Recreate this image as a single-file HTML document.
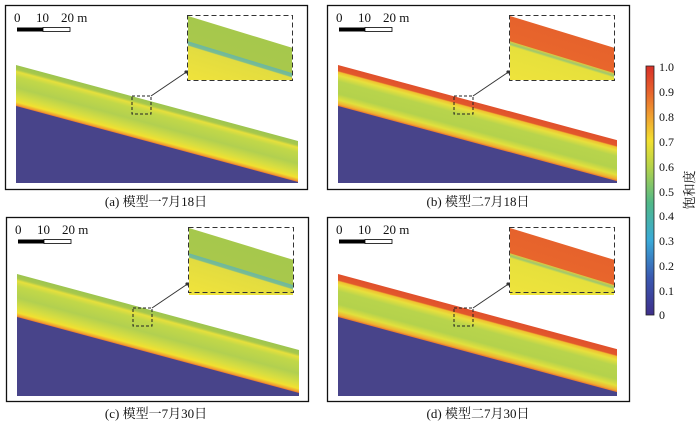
<!DOCTYPE html>
<html><head><meta charset="utf-8"><style>
html,body{margin:0;padding:0;background:#fff;width:700px;height:425px;overflow:hidden}
svg{display:block}
text{font-family:"Liberation Serif","Noto Serif CJK SC",serif;fill:#111}
</style></head><body>
<svg width="700" height="425" viewBox="0 0 700 425" xmlns="http://www.w3.org/2000/svg">
<defs>
<linearGradient id="g1" x1="0" y1="0" x2="0" y2="1">
<stop offset="0" stop-color="#9cc450"/><stop offset="0.1" stop-color="#a8c84c"/>
<stop offset="0.16" stop-color="#e6e03c"/><stop offset="0.28" stop-color="#c2d848"/>
<stop offset="0.55" stop-color="#b2d050"/><stop offset="0.78" stop-color="#d8de40"/>
<stop offset="0.9" stop-color="#f2e030"/><stop offset="0.97" stop-color="#f0a030"/><stop offset="1" stop-color="#e87030"/>
</linearGradient>
<linearGradient id="g2" x1="0" y1="0" x2="0" y2="1">
<stop offset="0" stop-color="#e0502c"/><stop offset="0.14" stop-color="#e2582c"/>
<stop offset="0.17" stop-color="#f0c030"/><stop offset="0.25" stop-color="#e8e03c"/>
<stop offset="0.4" stop-color="#b8d44c"/><stop offset="0.7" stop-color="#b4d24c"/>
<stop offset="0.85" stop-color="#e2e03c"/><stop offset="0.95" stop-color="#f0b030"/><stop offset="1" stop-color="#e87030"/>
</linearGradient>
<linearGradient id="i1" x1="0" y1="0" x2="0" y2="1">
<stop offset="0" stop-color="#a6c84c"/><stop offset="0.357" stop-color="#a8c84c"/>
<stop offset="0.364" stop-color="#6cb8a0"/><stop offset="0.414" stop-color="#7cbc90"/>
<stop offset="0.43" stop-color="#e2dc40"/><stop offset="0.85" stop-color="#eee23c"/><stop offset="1" stop-color="#f0e43c"/>
</linearGradient>
<linearGradient id="i2" x1="0" y1="0" x2="0" y2="1">
<stop offset="0" stop-color="#e6622c"/><stop offset="0.357" stop-color="#e8662c"/>
<stop offset="0.364" stop-color="#d8c840"/><stop offset="0.4" stop-color="#9cc870"/>
<stop offset="0.43" stop-color="#e6e03c"/><stop offset="1" stop-color="#f0e43c"/>
</linearGradient>
<linearGradient id="cb" x1="0" y1="1" x2="0" y2="0">
<stop offset="0" stop-color="#3e2f8a"/><stop offset="0.15" stop-color="#3a58b0"/>
<stop offset="0.3" stop-color="#3aaad8"/><stop offset="0.45" stop-color="#50b888"/>
<stop offset="0.6" stop-color="#b8d448"/><stop offset="0.7" stop-color="#f2e030"/>
<stop offset="0.8" stop-color="#f0a030"/><stop offset="0.9" stop-color="#e6602c"/><stop offset="1" stop-color="#d83028"/>
</linearGradient>
<clipPath id="ic"><rect x="188" y="16" width="104" height="64"/></clipPath>
<clipPath id="ic2"><rect x="188" y="16" width="104" height="67"/></clipPath>

<g id="pa">
<rect x="5.5" y="5.5" width="302" height="184" fill="#fff" stroke="#111" stroke-width="1.3"/>
<text x="14" y="22" font-size="13">0</text><text x="36" y="22" font-size="13">10</text><text x="61" y="22" font-size="13">20 m</text>
<rect x="17" y="27.5" width="26" height="4" fill="#000"/><rect x="43" y="27.5" width="27" height="4" fill="#fff" stroke="#000" stroke-width="0.8"/>
</g>
<g id="sm"><rect x="132" y="96" width="19" height="18" fill="none" stroke="#222" stroke-dasharray="3,2"/>
<line x1="151" y1="96" x2="185" y2="73" stroke="#333"/><circle cx="186" cy="72" r="1.6" fill="#333"/>
<rect x="187.5" y="15.5" width="105" height="65" fill="none" stroke="#333" stroke-dasharray="5,3"/></g>
</defs>

<use href="#pa"/>
<polygon points="16,104 298,180 298,183 16,183" fill="#48448a"/>
<g transform="translate(16,65) skewY(15.08)"><rect width="282" height="41" fill="url(#g1)"/></g>
<g clip-path="url(#ic)"><g transform="translate(188,16) skewY(17)"><rect width="104" height="70" fill="url(#i1)"/></g></g>
<use href="#sm"/>
<text x="156" y="206" font-size="13" text-anchor="middle">(a) 模型一7月18日</text>

<g transform="translate(322,0)">
<use href="#pa"/>
<polygon points="16,104 295,179 295,183 16,183" fill="#48448a"/>
<g transform="translate(16,65) skewY(15.08)"><rect width="279" height="41" fill="url(#g2)"/></g>
<g clip-path="url(#ic)"><g transform="translate(188,16) skewY(17)"><rect width="104" height="70" fill="url(#i2)"/></g></g>
<use href="#sm"/>
</g>
<text x="478" y="206" font-size="13" text-anchor="middle">(b) 模型二7月18日</text>

<g transform="translate(1,212)">
<use href="#pa"/>
<polygon points="16,103 298,179 298,184 16,184" fill="#48448a"/>
<g transform="translate(16,62) skewY(15.08)"><rect width="282" height="43" fill="url(#g1)"/></g>
<g clip-path="url(#ic2)"><g transform="translate(188,16) skewY(17)"><rect width="104" height="70" fill="url(#i1)"/></g></g>
<use href="#sm"/>
</g>
<text x="156" y="418" font-size="13" text-anchor="middle">(c) 模型一7月30日</text>

<g transform="translate(322,212)">
<use href="#pa"/>
<polygon points="16,103 295,178 295,184 16,184" fill="#48448a"/>
<g transform="translate(16,62) skewY(15.08)"><rect width="279" height="43" fill="url(#g2)"/></g>
<g clip-path="url(#ic2)"><g transform="translate(188,16) skewY(17)"><rect width="104" height="70" fill="url(#i2)"/></g></g>
<use href="#sm"/>
</g>
<text x="478" y="418" font-size="13" text-anchor="middle">(d) 模型二7月30日</text>

<rect x="646" y="66" width="8" height="249" fill="url(#cb)" stroke="#222" stroke-width="0.8"/>
<g font-size="12">
<text x="659" y="71">1.0</text><text x="659" y="96">0.9</text><text x="659" y="121">0.8</text>
<text x="659" y="146">0.7</text><text x="659" y="171">0.6</text><text x="659" y="196">0.5</text>
<text x="659" y="220">0.4</text><text x="659" y="245">0.3</text><text x="659" y="270">0.2</text>
<text x="659" y="295">0.1</text><text x="659" y="319">0</text>
</g>
<text transform="translate(694,190) rotate(-90)" font-size="13" text-anchor="middle">饱和度</text>
</svg>
</body></html>
